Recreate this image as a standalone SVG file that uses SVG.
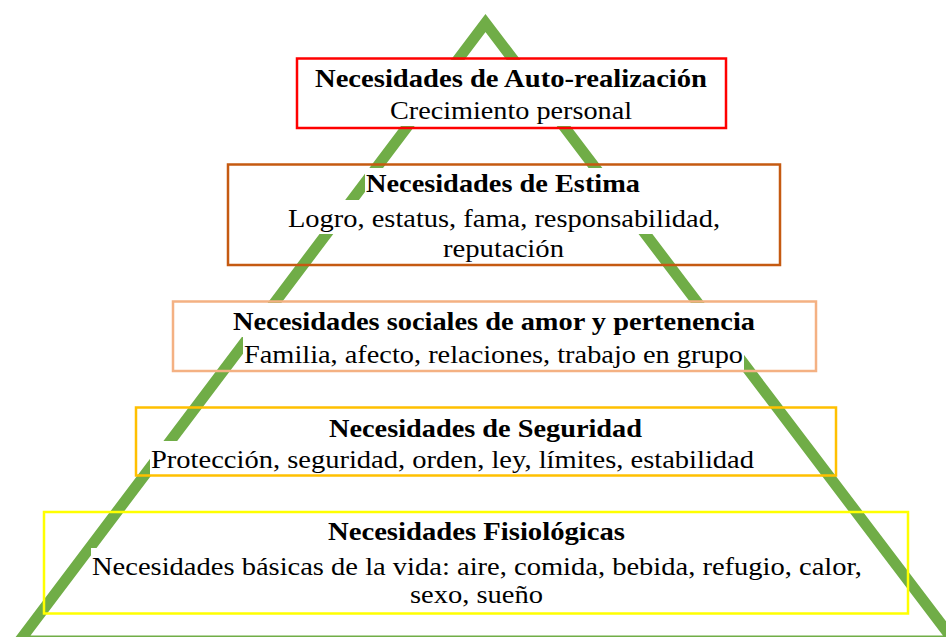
<svg xmlns="http://www.w3.org/2000/svg" width="946" height="637" viewBox="0 0 946 637">
  <style>
    .tri { fill: none; stroke: #70AD47; stroke-width: 11; stroke-linejoin: miter; stroke-miterlimit: 10; }
    .box { fill: none; stroke-width: 2.5; }
    .hl { fill: #FFFFFF; }
    text { font-family: "Times New Roman", Times, "Liberation Serif", "DejaVu Serif", serif; font-size: 26px; fill: #000000; }
  </style>
  <rect x="0" y="0" width="946" height="637" fill="#FFFFFF"/>
  <g id="pyramid">
    <polygon class="tri" points="485.5,23 19.5,641 954,641"/>
  </g>
  <g id="connectors"></g>
  <g id="node-autorealizacion">
    <rect class="hl" x="314" y="60" width="394" height="34"/>
    <rect class="hl" x="389" y="93" width="244" height="33"/>
    <rect class="box" x="297" y="58.5" width="429" height="69.5" stroke="#FF0000"/>
    <text font-weight="bold" x="315" y="87" textLength="392" lengthAdjust="spacingAndGlyphs">Necesidades de Auto-realización</text>
    <text x="390" y="119" textLength="242" lengthAdjust="spacingAndGlyphs">Crecimiento personal</text>
  </g>
  <g id="node-estima">
    <rect class="hl" x="365" y="168" width="277" height="33"/>
    <rect class="hl" x="287" y="200" width="434" height="34"/>
    <rect class="hl" x="442" y="230" width="123" height="34"/>
    <rect class="box" x="228" y="164.5" width="552" height="100.5" stroke="#C55A11"/>
    <text font-weight="bold" x="366" y="192" textLength="274" lengthAdjust="spacingAndGlyphs">Necesidades de Estima</text>
    <text x="288" y="227" textLength="432" lengthAdjust="spacingAndGlyphs">Logro, estatus, fama, responsabilidad,</text>
    <text x="443" y="257" textLength="121" lengthAdjust="spacingAndGlyphs">reputación</text>
  </g>
  <g id="node-sociales">
    <rect class="hl" x="232" y="303" width="524" height="34"/>
    <rect class="hl" x="243" y="336" width="501" height="34"/>
    <rect class="box" x="173" y="301.5" width="643" height="69.5" stroke="#F4B183"/>
    <text font-weight="bold" x="233" y="330" textLength="522" lengthAdjust="spacingAndGlyphs">Necesidades sociales de amor y pertenencia</text>
    <text x="244" y="363" textLength="499" lengthAdjust="spacingAndGlyphs">Familia, afecto, relaciones, trabajo en grupo</text>
  </g>
  <g id="node-seguridad">
    <rect class="hl" x="328" y="410" width="315" height="34"/>
    <rect class="hl" x="150" y="441" width="605" height="34"/>
    <rect class="box" x="136" y="407.5" width="700" height="68" stroke="#FFC000"/>
    <text font-weight="bold" x="329" y="437" textLength="313" lengthAdjust="spacingAndGlyphs">Necesidades de Seguridad</text>
    <text x="151" y="468" textLength="603" lengthAdjust="spacingAndGlyphs">Protección, seguridad, orden, ley, límites, estabilidad</text>
  </g>
  <g id="node-fisiologicas">
    <rect class="hl" x="327" y="514" width="299" height="34"/>
    <rect class="hl" x="91" y="548" width="772" height="34"/>
    <rect class="hl" x="409" y="576" width="135" height="34"/>
    <rect class="box" x="44" y="512" width="864" height="101.5" stroke="#FFFF00"/>
    <text font-weight="bold" x="328" y="540" textLength="297" lengthAdjust="spacingAndGlyphs">Necesidades Fisiológicas</text>
    <text x="92" y="575" textLength="770" lengthAdjust="spacingAndGlyphs">Necesidades básicas de la vida: aire, comida, bebida, refugio, calor,</text>
    <text x="410" y="603" textLength="133" lengthAdjust="spacingAndGlyphs">sexo, sueño</text>
  </g>
</svg>
